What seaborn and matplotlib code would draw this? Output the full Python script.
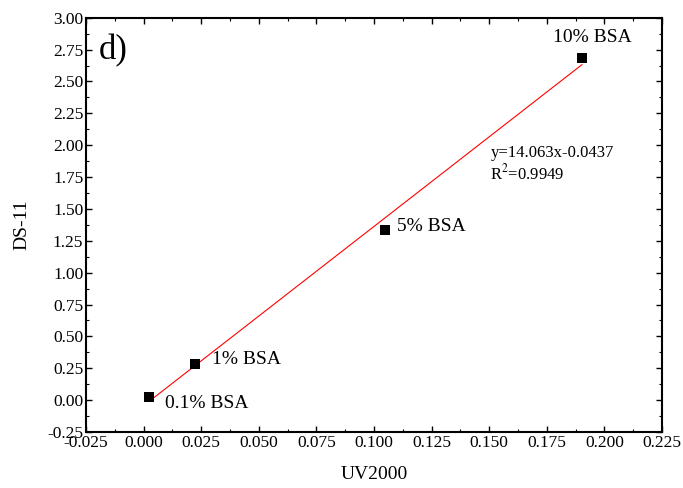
import numpy as np
import pandas as pd
import matplotlib
matplotlib.use("Agg")
import matplotlib.pyplot as plt
import seaborn as sns
from matplotlib.ticker import MultipleLocator, FormatStrFormatter

# Measured values
labels = ["0.1% BSA", "1% BSA", "5% BSA", "10% BSA"]
uv2000 = [0.0023, 0.0223, 0.1048, 0.1903]
ds11 = [0.025, 0.284, 1.335, 2.684]

# Linear fit reported on the chart
slope = 14.063
intercept = -0.0437
r_squared = 0.9949

df = pd.DataFrame({"UV2000": uv2000, "DS-11": ds11, "label": labels})

sns.set_theme(style="ticks")
plt.rcParams["font.family"] = ["Liberation Serif", "DejaVu Serif"]
plt.rcParams["mathtext.fontset"] = "stix"
plt.rcParams["text.color"] = "black"
plt.rcParams["axes.labelcolor"] = "black"

fig = plt.figure(figsize=(6.83, 4.88), dpi=100)
ax = fig.add_axes([0.1259, 0.1148, 0.9693 - 0.1259, 0.9637 - 0.1148])

# Fit line across the measured range
fit_x = np.array([min(uv2000), max(uv2000)])
ax.plot(fit_x, slope * fit_x + intercept, color="red", lw=0.8, zorder=2)

sns.scatterplot(data=df, x="UV2000", y="DS-11", marker="s", s=52,
                color="black", edgecolor="black", linewidth=0, ax=ax, zorder=3)

# Point labels (offsets in pixels)
offsets = {
    "0.1% BSA": (16, -7, "left", "center"),
    "1% BSA": (17, 4, "left", "center"),
    "5% BSA": (12, 3, "left", "center"),
    "10% BSA": (10, 16, "center", "baseline"),
}
for lab, x, y in zip(labels, uv2000, ds11):
    dx, dy, ha, va = offsets[lab]
    ax.annotate(lab, (x, y), xytext=(dx, dy), textcoords="offset pixels",
                ha=ha, va=va, fontsize=14, color="black")

ax.text(0.1505, 1.907, f"y={slope:.3f}x{intercept:.4f}", fontsize=12,
        ha="left", va="baseline", color="black")
ax.text(0.1505, 1.735, r"R$^2$=" + f"{r_squared:.4f}", fontsize=12,
        ha="left", va="baseline", color="black")

ax.text(-0.0195, 2.676, "d)", fontsize=25, ha="left", va="baseline",
        color="black")

ax.set_xlim(-0.025, 0.225)
ax.set_ylim(-0.25, 3.0)
ax.xaxis.set_major_locator(MultipleLocator(0.025))
ax.xaxis.set_minor_locator(MultipleLocator(0.0125))
ax.yaxis.set_major_locator(MultipleLocator(0.25))
ax.yaxis.set_minor_locator(MultipleLocator(0.125))
ax.xaxis.set_major_formatter(FormatStrFormatter("%.3f"))
ax.yaxis.set_major_formatter(FormatStrFormatter("%.2f"))

ax.tick_params(which="both", direction="in", top=True, right=True,
               color="black", labelsize=12.5, labelcolor="black")
ax.tick_params(which="major", length=4, width=1, pad=2)
ax.tick_params(which="minor", length=2, width=0.8)

for sp in ax.spines.values():
    sp.set_visible(True)
    sp.set_linewidth(1.5)
    sp.set_color("black")

ax.set_xlabel("UV2000", fontsize=14, labelpad=11, color="black")
ax.set_ylabel("DS-11", fontsize=14, labelpad=12, color="black")

fig.savefig("out.png", dpi=100, facecolor="white")
